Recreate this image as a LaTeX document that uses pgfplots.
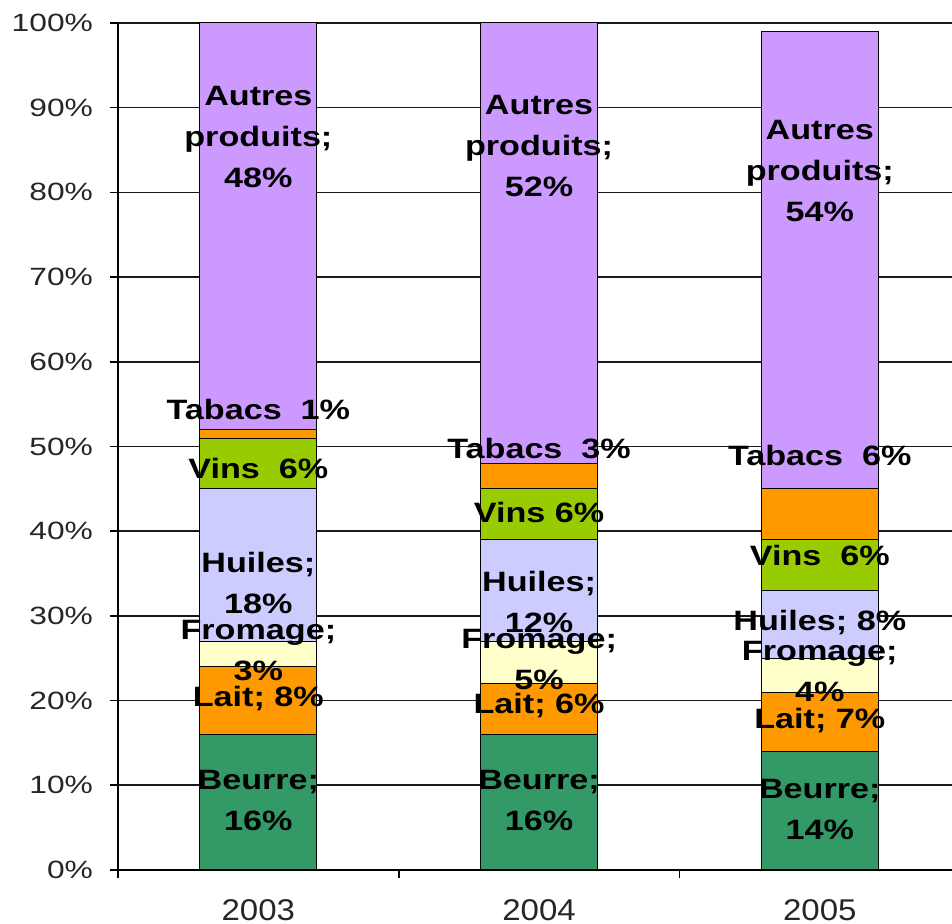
\documentclass[border=0pt]{standalone}
\usepackage{fontspec}
\setmainfont{Liberation Sans}
\newfontfamily\tickfont[FakeStretch=1.27]{Liberation Sans}
\newfontfamily\yearfont[FakeStretch=1.1]{Liberation Sans}
\newfontfamily\lblfont[FakeStretch=1.22]{Liberation Sans}
\usepackage{pgfplots}
\pgfplotsset{compat=1.18}
\definecolor{beurre}{HTML}{339966}
\definecolor{lait}{HTML}{FF9900}
\definecolor{fromage}{HTML}{FFFFCC}
\definecolor{huiles}{HTML}{CCCCFF}
\definecolor{vins}{HTML}{99CC00}
\definecolor{tabacs}{HTML}{FF9900}
\definecolor{autres}{HTML}{CC99FF}
\tikzset{lbl/.style={font=\lblfont\bfseries\fontsize{14}{20.5}\selectfont, align=center, inner sep=0pt, text=black}}
\newcommand\segmentlabels{%
% labels 2003
\node[lbl] at (axis cs:0,8.2) {Beurre;\\16\%};
\node[lbl] at (axis cs:0,20.2) {Lait; 8\%};
\node[lbl] at (axis cs:0,25.9) {Fromage;\\3\%};
\node[lbl] at (axis cs:0,33.9) {Huiles;\\18\%};
\node[lbl] at (axis cs:0,47.4) {Vins~~6\%};
\node[lbl] at (axis cs:0,54.4) {Tabacs~~1\%};
\node[lbl] at (axis cs:0,86.5) {Autres\\produits;\\48\%};
% labels 2004
\node[lbl] at (axis cs:1,8.2) {Beurre;\\16\%};
\node[lbl] at (axis cs:1,19.4) {Lait; 6\%};
\node[lbl] at (axis cs:1,24.9) {Fromage;\\5\%};
\node[lbl] at (axis cs:1,31.7) {Huiles;\\12\%};
\node[lbl] at (axis cs:1,42.2) {Vins 6\%};
\node[lbl] at (axis cs:1,49.8) {Tabacs~~3\%};
\node[lbl] at (axis cs:1,85.5) {Autres\\produits;\\52\%};
% labels 2005
\node[lbl] at (axis cs:2,7.2) {Beurre;\\14\%};
\node[lbl] at (axis cs:2,17.6) {Lait; 7\%};
\node[lbl] at (axis cs:2,23.4) {Fromage;\\4\%};
\node[lbl] at (axis cs:2,29.2) {Huiles; 8\%};
\node[lbl] at (axis cs:2,37.1) {Vins~~6\%};
\node[lbl] at (axis cs:2,48.9) {Tabacs~~6\%};
\node[lbl] at (axis cs:2,82.5) {Autres\\produits;\\54\%};
}
\begin{document}
\begin{tikzpicture}
\begin{axis}[
  scale only axis, width=417pt, height=423.5pt,
  ybar stacked, bar width=0.417,
  xmin=-0.5, xmax=2.471, ymin=0, ymax=100,
  axis x line*=bottom, axis y line*=left,
  axis line style={-, black, line width=0.9pt},
  ytick={0,10,...,100},
  yticklabels={0\%,10\%,20\%,30\%,40\%,50\%,60\%,70\%,80\%,90\%,100\%},
  yticklabel style={font=\tickfont\fontsize{12.5}{15}\selectfont, text=black!85, xshift=-5pt},
  xtick={-0.5,0.5,1.5}, xticklabels={},
  extra x ticks={0,1,2}, extra x tick labels={2003,2004,2005},
  extra x tick style={major tick length=0pt, grid=none,
     xticklabel style={font=\yearfont\fontsize{15}{18}\selectfont, text=black!85, yshift=-11pt}},
  tick align=outside, major tick length=4pt,
  tick style={black, line width=0.8pt},
  ymajorgrids, grid style={black!90, line width=0.8pt},
  every axis plot/.append style={draw=black, line width=0.5pt},
  after end axis/.code={\segmentlabels},
]
\addplot[fill=beurre] coordinates {(0,16) (1,16) (2,14)};
\addplot[fill=lait] coordinates {(0,8) (1,6) (2,7)};
\addplot[fill=fromage] coordinates {(0,3) (1,5) (2,4)};
\addplot[fill=huiles] coordinates {(0,18) (1,12) (2,8)};
\addplot[fill=vins] coordinates {(0,6) (1,6) (2,6)};
\addplot[fill=tabacs] coordinates {(0,1) (1,3) (2,6)};
\addplot[fill=autres] coordinates {(0,48) (1,52) (2,54)};
\end{axis}
\pgfresetboundingbox
\path (-59pt,-27pt) rectangle (417pt,435pt);
\end{tikzpicture}
\end{document}
